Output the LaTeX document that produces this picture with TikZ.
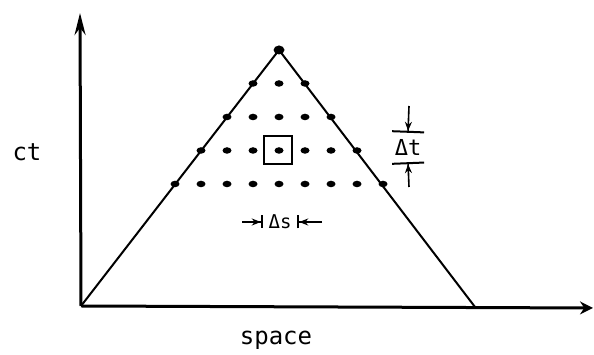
\documentclass[tikz,border=0pt]{standalone}
\usepackage{fontspec}
\setmonofont{DejaVu Sans Mono}
\usetikzlibrary{arrows.meta,shapes.geometric}

\begin{document}
\begin{tikzpicture}[
  x=1pt,y=1pt,
  axis/.style={line width=3pt},
  edge/.style={line width=2pt},
  latdot/.style={ellipse,fill=black,inner sep=0pt,minimum width=9pt,minimum height=6.5pt},
  lbl/.style={font=\ttfamily\fontsize{24}{26}\selectfont,inner sep=0pt},
  tick/.style={font=\ttfamily\fontsize{22}{24}\selectfont,inner sep=0pt},
  vdim/.style={line width=1.6pt,-{Stealth[length=9pt,width=7pt]Bar[width=32pt,line width=2pt]}},
  hdim/.style={line width=1.6pt,-{Stealth[length=9pt,width=7pt]Bar[width=13pt,line width=2pt]}}
]
\useasboundingbox (0,0) rectangle (594,355);
% axes
\coordinate (origin) at (81,49);
\coordinate (ytip) at (80,342);
\coordinate (xtip) at (593,47);
\draw[axis,-{Stealth[length=22pt,width=11pt]}] (origin) -- (ytip);
\draw[axis,-{Stealth[length=13pt,width=13pt]}] (origin) -- (xtip);
\node[lbl] (ct) at (27,203) {ct};
\node[lbl,anchor=base] (space) at (276,10) {space};
% light cone
\coordinate (apex) at (279,305);
\coordinate (right) at (475,48);
\draw[edge] (origin) -- (apex) -- (right);
% lattice of events
\foreach \k in {0,...,4}
  \foreach \j in {-\k,...,\k}
    \node[latdot] (d\k\j) at (279+26*\j,305-33.5*\k) {};
\node[latdot,minimum width=11pt,minimum height=9pt] at (apex) {};
\node[draw,line width=2.4pt,minimum size=28pt,inner sep=0pt] (cell) at (278,205) {};
% step sizes
\node[tick,minimum height=29pt] (dt) at (408,207.5) {Δt};
\coordinate (dttop) at (409,249);
\coordinate (dtbot) at (409,168);
\draw[vdim] (dttop) -- (dt.north);
\draw[vdim] (dtbot) -- (dt.south);
\node[tick,font=\ttfamily\fontsize{19}{21}\selectfont,minimum width=34pt] (ds) at (280,133) {Δs};
\coordinate (dsleft) at (242,133);
\coordinate (dsright) at (322,133);
\draw[hdim] (dsleft) -- (ds.west);
\draw[hdim] (dsright) -- (ds.east);
\end{tikzpicture}
\end{document}
